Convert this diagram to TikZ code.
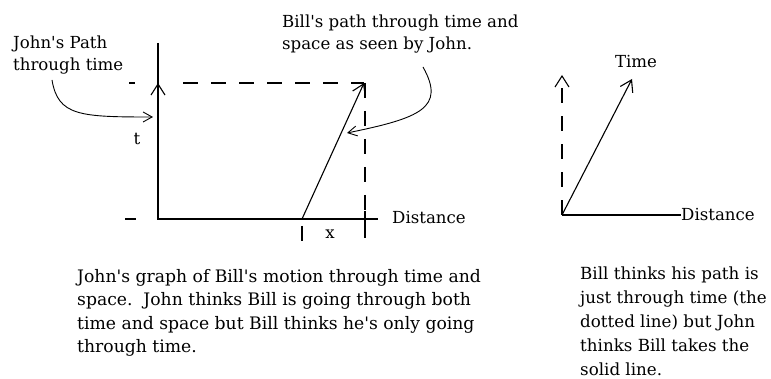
\documentclass[tikz,border=0pt]{standalone}
\usepackage{fontspec}
\setmainfont{DejaVu Serif}[Ligatures=TeXOff]
\usetikzlibrary{arrows.meta,positioning}

\begin{document}
\begin{tikzpicture}[
  x=1pt, y=-1pt,
  every node/.style={font=\fontsize{16.6}{22}\selectfont, inner sep=0pt},
  txt/.style={align=left, anchor=north west},
  caption/.style={txt, font=\fontsize{17.2}{23.5}\selectfont},
  axis/.style={line width=1.2pt},
  dashline/.style={line width=1.2pt, dash pattern=on 15pt off 13pt},
  arr/.style={-{Straight Barb[length=11pt,width=14pt]}, line width=1.1pt},
  curvearr/.style={-{Straight Barb[length=9pt,width=10pt]}, line width=0.9pt},
]
\useasboundingbox (0,0) rectangle (771,379);

% labels at the top
\node[txt] (john) at (13,36) {John's Path\\through time};
\node[txt] (bill) at (282,15) {Bill's path through time and\\space as seen by John.};

% John's graph
\coordinate (O) at (158,219);
\coordinate (top) at (158,43);
\coordinate (T) at (158,83);
\coordinate (E) at (364,83);
\coordinate (B) at (302,219);
\coordinate (end) at (378,219);

\draw[axis] (top) -- (O) -- (end);
\draw[axis] (125,219) -- (136,219);
\draw[axis] (129,83) -- (135,83);
\draw[arr] (O) -- (T);
\draw[dashline] (183,83) -- (E);
\draw[dashline] (365,83) -- (365,250);
\draw[axis] (365,211) -- (365,227);
\draw[dashline] (302,226) -- (302,250);
\draw[arr] (B) -- (E);

\node (t) at (137,139) {t};
\node (x) at (330,234) {x};
\node[anchor=west] (dist1) at (392,218) {Distance};

% pointers from the labels
\coordinate (jstart) at (52,80);
\coordinate (jend) at (153,117);
\draw[curvearr] (jstart) .. controls (58,116) and (80,117) .. (jend);
\coordinate (bstart) at (423,67);
\coordinate (bend) at (347,133);
\draw[curvearr] (bstart) .. controls (446,108) and (420,118) .. (bend);

% Bill's view
\coordinate (O2) at (562,215);
\coordinate (up) at (562,75);
\coordinate (tip) at (632,79);
\coordinate (right) at (681,215);
\draw[dashline, arr] (O2) -- (up);
\draw[axis] (O2) -- (right);
\draw[arr] (O2) -- (tip);
\node[anchor=west] (dist2) at (right) {Distance};
\node (time) at (636,62) {Time};

% captions
\node[caption] (cap1) at (77,269) {John's graph of Bill's motion through time and\\space.\ \ John thinks Bill is going through both\\time and space but Bill thinks he's only going\\through time.};
\node[caption, font=\fontsize{16.7}{23.8}\selectfont] (cap2) at (580,267) {Bill thinks his path is\\just through time (the\\dotted line) but John\\thinks Bill takes the\\solid line.};
\end{tikzpicture}
\end{document}
